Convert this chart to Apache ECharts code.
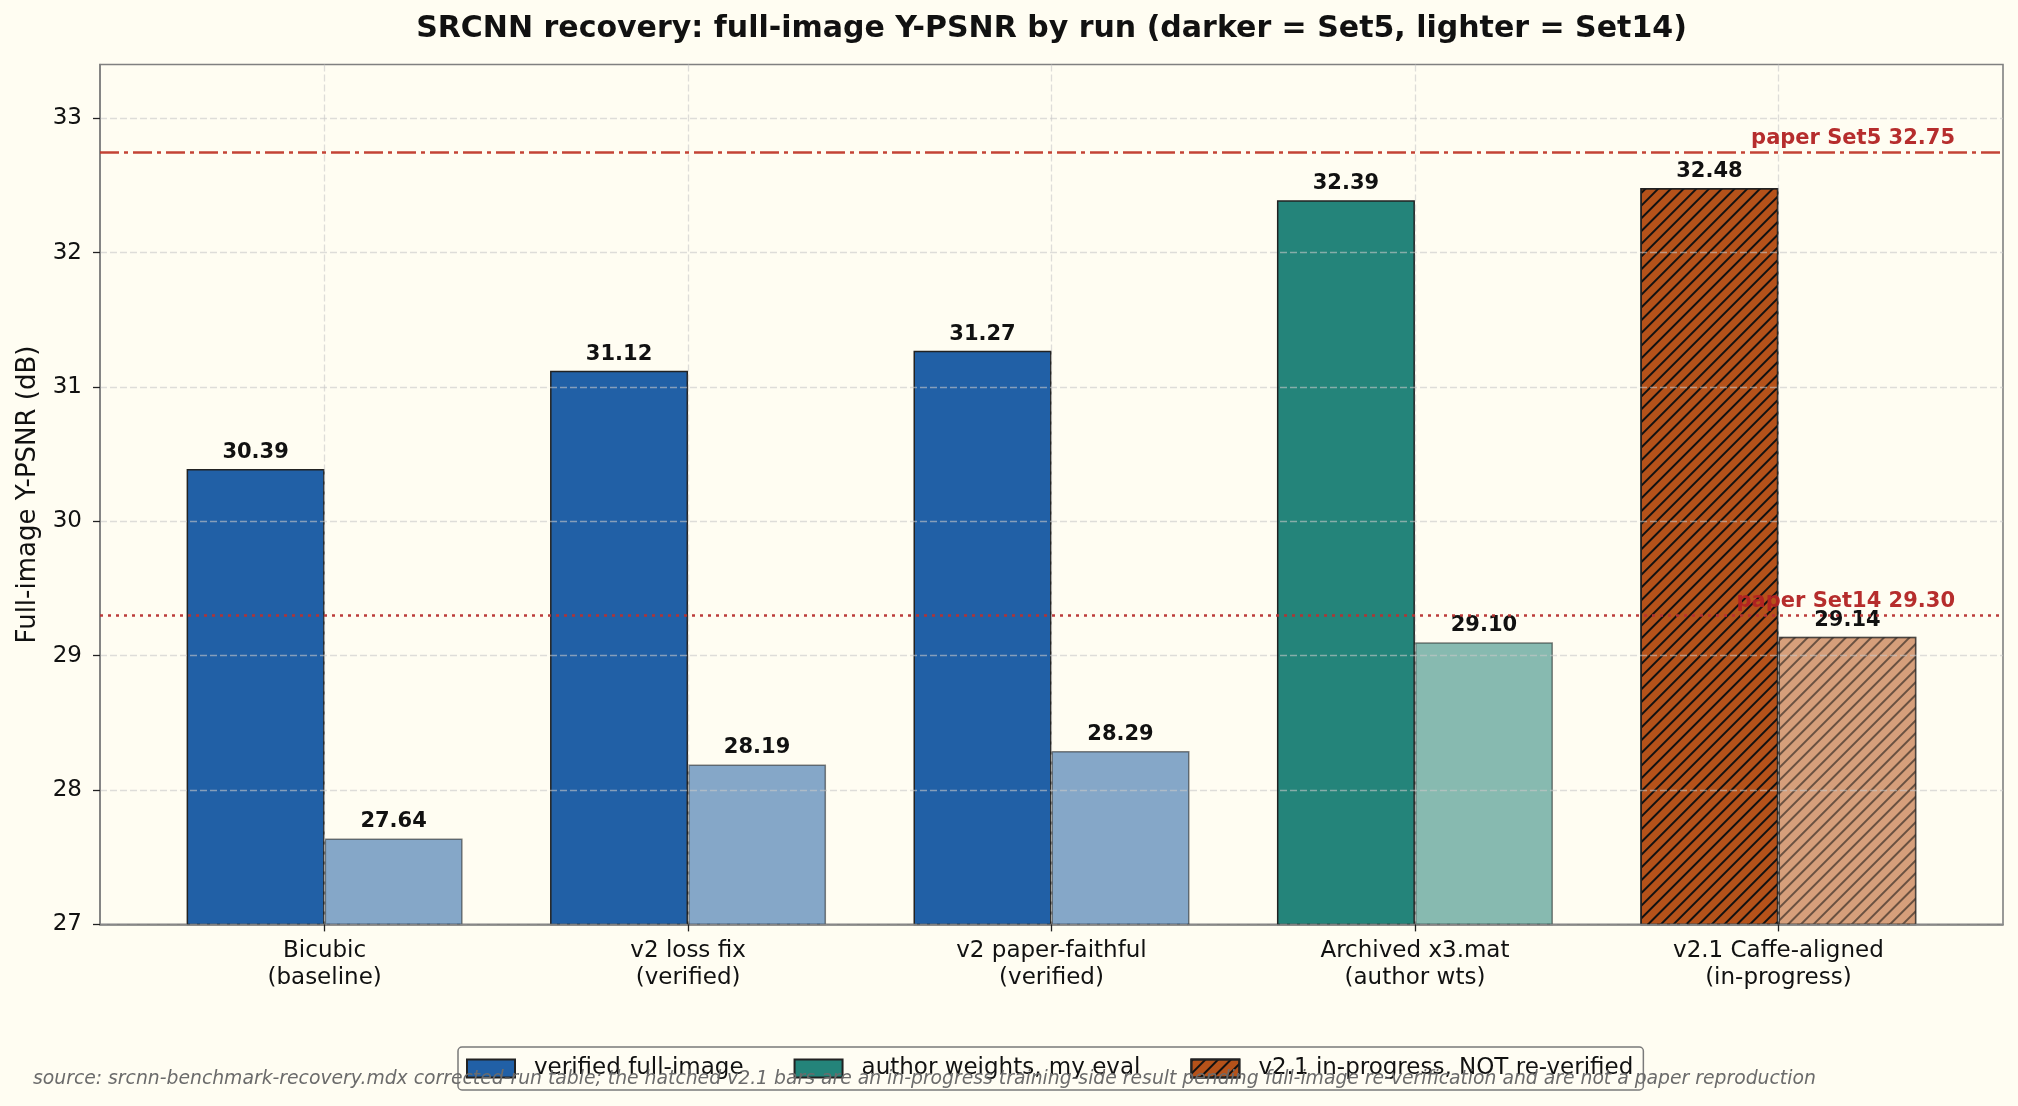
<!DOCTYPE html>
<html>
<head>
<meta charset="utf-8">
<script src="https://cdn.jsdelivr.net/npm/echarts@6.0.0/dist/echarts.min.js"></script>
<style>
  html, body { margin: 0; padding: 0; background: #fffdf2; }
  #chart { width: 2018px; height: 1106px; }
</style>
</head>
<body>
<div id="chart"></div>
<script>
// run labels along x, one per group of two bars
const categories = [
  'Bicubic\n(baseline)',
  'v2 loss fix\n(verified)',
  'v2 paper-faithful\n(verified)',
  'Archived x3.mat\n(author wts)',
  'v2.1 Caffe-aligned\n(in-progress)'
];
// full-image Y-PSNR (dB)
const set5 = [30.39, 31.12, 31.27, 32.39, 32.48];
const set14 = [27.64, 28.19, 28.29, 29.10, 29.14];
// which legend group each run belongs to
const runKind = [0, 0, 0, 1, 2];
const legendNames = ['verified full-image', 'author weights, my eval', 'v2.1 in-progress, NOT re-verified'];
const paperSet5 = 32.75;
const paperSet14 = 29.30;
const yTicks = [27, 28, 29, 30, 31, 32, 33];

const FONT = 'DejaVu Sans';
const kindColors = ['#2160a6', '#24847a', '#b5521a'];
const hatched = [false, false, true];
const LIGHT = 0.55;

function rgba(hex, a) {
  const n = parseInt(hex.slice(1), 16);
  return 'rgba(' + (n >> 16 & 255) + ',' + (n >> 8 & 255) + ',' + (n & 255) + ',' + a + ')';
}

function hatch(color) {
  return {
    symbol: 'rect',
    symbolSize: 1,
    dashArrayX: [1, 0],
    dashArrayY: [2, 6.5],
    rotation: -Math.PI / 4,
    color: color
  };
}

function barStyle(kind, light) {
  const a = light ? LIGHT : 1;
  const s = {
    color: rgba(kindColors[kind], a),
    borderColor: rgba('#222222', a),
    borderWidth: 1.5
  };
  if (hatched[kind]) s.decal = hatch(rgba('#111111', a));
  return s;
}

const gridLine = { color: 'rgba(200,200,200,0.6)', width: 1.3, type: [7, 3] };
const valueLabel = {
  show: true,
  position: 'top',
  distance: 6,
  fontFamily: FONT,
  fontWeight: 'bold',
  fontSize: 21,
  color: '#111',
  formatter: p => p.value[1].toFixed(2)
};

let myChart = echarts.init(document.getElementById('chart'));

let option = {
  backgroundColor: '#fffdf2',
  animation: false,
  grid: {
    left: 100, right: 15, top: 64.5, bottom: 181.6,
    show: true,
    borderColor: '#808080',
    borderWidth: 1.6,
    backgroundColor: 'transparent'
  },
  legend: {
    data: legendNames,
    left: 458,
    top: 1047,
    orient: 'horizontal',
    icon: 'rect',
    itemWidth: 48,
    itemHeight: 18,
    itemGap: 50,
    padding: [10, 10, 10, 8],
    borderColor: '#7a7a7a',
    borderWidth: 1.5,
    borderRadius: 4,
    backgroundColor: 'rgba(255,253,242,0.8)',
    selectedMode: false,
    textStyle: { fontFamily: FONT, fontSize: 23, color: '#111', padding: [0, 0, 0, 14] }
  },
  xAxis: [
    {
      type: 'value',
      min: -0.618,
      max: 4.618,
      splitNumber: 5,
      z: 3,
      axisLine: { show: true, onZero: false, lineStyle: { color: '#808080', width: 1.6 } },
      axisTick: { show: true, length: 7, customValues: [0, 1, 2, 3, 4], lineStyle: { color: '#222', width: 1.3 } },
      axisLabel: {
        customValues: [0, 1, 2, 3, 4],
        formatter: v => categories[v],
        margin: 13,
        fontFamily: FONT,
        fontSize: 23,
        lineHeight: 27,
        color: '#111'
      },
      splitLine: { show: true, lineStyle: gridLine }
    },
    { type: 'value', show: false, min: -0.618, max: 4.618 }
  ],
  yAxis: {
    type: 'value',
    min: 27,
    max: 33.4,
    interval: 1,
    z: 3,
    name: 'Full-image Y-PSNR (dB)',
    nameLocation: 'middle',
    nameRotate: 90,
    nameGap: 59,
    nameTextStyle: { fontFamily: FONT, fontSize: 26, color: '#111' },
    axisLine: { show: true, onZero: false, lineStyle: { color: '#808080', width: 1.6 } },
    axisTick: { show: true, length: 7, customValues: yTicks, lineStyle: { color: '#222', width: 1.3 } },
    axisLabel: {
      customValues: yTicks,
      margin: 18,
      fontFamily: FONT,
      fontSize: 23,
      color: '#111',
      formatter: v => String(v)
    },
    splitLine: { show: true, lineStyle: gridLine }
  },
  series: [
    {
      name: 'Set5',
      type: 'bar',
      barWidth: 138,
      barGap: '0%',
      data: set5.map((v, i) => ({ value: [i, v], itemStyle: barStyle(runKind[i], false) })),
      label: valueLabel,
      markLine: {
        silent: true,
        symbol: 'none',
        data: [
          {
            yAxis: paperSet5,
            lineStyle: { color: '#c0392b', width: 2.6, type: [19, 5, 4, 5], opacity: 0.95 },
            label: {
              show: true,
              position: 'insideEndTop',
              distance: 3,
              padding: [0, 45, 0, 0],
              formatter: 'paper Set5 ' + paperSet5.toFixed(2),
              fontFamily: FONT, fontWeight: 'bold', fontSize: 21, color: '#b22222'
            }
          },
          {
            yAxis: paperSet14,
            lineStyle: { color: '#b83232', width: 2.6, type: [3, 5], opacity: 0.95 },
            label: {
              show: true,
              position: 'insideEndTop',
              distance: 3,
              padding: [0, 45, 0, 0],
              formatter: 'paper Set14 ' + paperSet14.toFixed(2),
              fontFamily: FONT, fontWeight: 'bold', fontSize: 21, color: '#b22222'
            }
          }
        ]
      }
    },
    {
      name: 'Set14',
      type: 'bar',
      barWidth: 138,
      barGap: '0%',
      data: set14.map((v, i) => ({ value: [i, v], itemStyle: barStyle(runKind[i], true) })),
      label: valueLabel
    }
  ].concat(legendNames.map((name, k) => ({
    // legend-only entries, one per run group
    name: name,
    type: 'bar',
    xAxisIndex: 1,
    data: [],
    itemStyle: barStyle(k, false)
  }))),
  graphic: [
    {
      type: 'text',
      z: 100,
      x: 1051.5,
      y: 29,
      style: {
        text: 'SRCNN recovery: full-image Y-PSNR by run (darker = Set5, lighter = Set14)',
        align: 'center',
        verticalAlign: 'middle',
        fontFamily: FONT,
        fontWeight: 'bold',
        fontSize: 30,
        fill: '#111'
      }
    },
    {
      type: 'text',
      z: 100,
      x: 33,
      y: 1079,
      style: {
        text: 'source: srcnn-benchmark-recovery.mdx corrected-run table; the hatched v2.1 bars are an in-progress training-side result pending full-image re-verification and are not a paper reproduction',
        verticalAlign: 'middle',
        fontFamily: FONT,
        fontStyle: 'italic',
        fontSize: 18.8,
        fill: '#6b6b6b'
      }
    }
  ]
};

myChart.setOption(option);
</script>
</body>
</html>
